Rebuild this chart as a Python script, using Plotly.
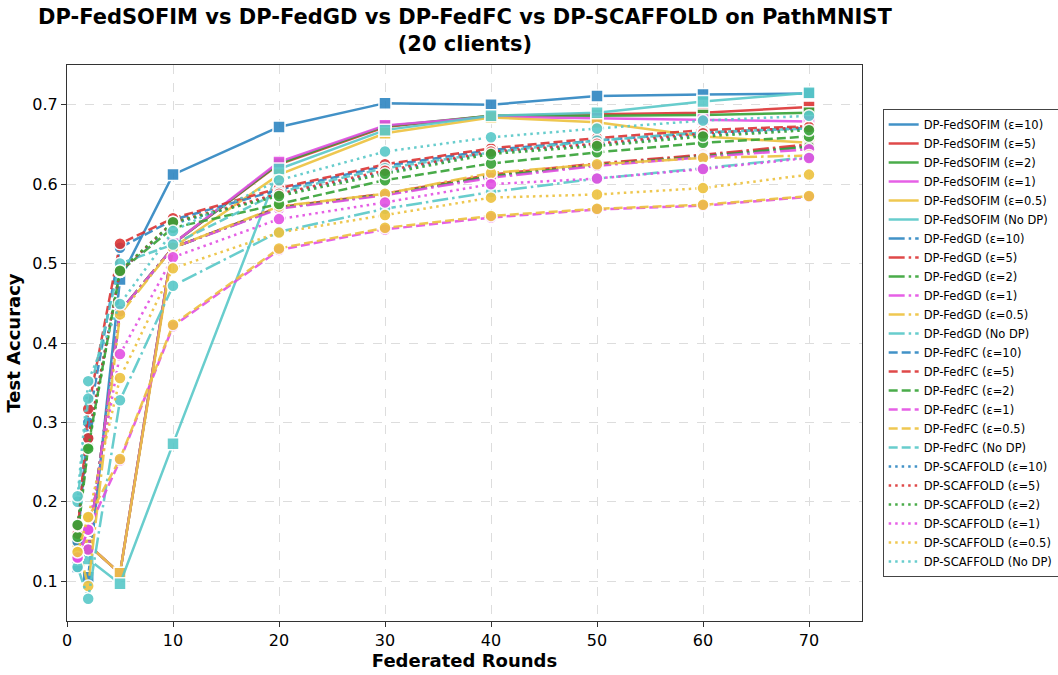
import plotly.graph_objects as go

rounds = [1, 2, 5, 10, 20, 30, 40, 50, 60, 70]
eps_labels = ["ε=10", "ε=5", "ε=2", "ε=1", "ε=0.5", "No DP"]
colors = ["#2E86C1", "#DC3535", "#36A336", "#E34FE3", "#EDC23E", "#58C8C8"]

fedsofim = [
    [0.118, 0.105, 0.480, 0.612, 0.672, 0.702, 0.700, 0.711, 0.713, 0.714],
    [0.140, 0.146, 0.110, 0.525, 0.625, 0.672, 0.686, 0.688, 0.690, 0.697],
    [0.140, 0.146, 0.110, 0.525, 0.626, 0.673, 0.686, 0.686, 0.687, 0.690],
    [0.140, 0.146, 0.110, 0.525, 0.628, 0.674, 0.685, 0.683, 0.681, 0.679],
    [0.140, 0.146, 0.110, 0.520, 0.612, 0.664, 0.684, 0.678, 0.660, 0.652],
    [0.128, 0.128, 0.097, 0.273, 0.619, 0.668, 0.686, 0.690, 0.704, 0.715],
]
fedgd = [
    [0.130, 0.140, 0.440, 0.520, 0.570, 0.587, 0.610, 0.625, 0.636, 0.648],
    [0.130, 0.140, 0.440, 0.520, 0.571, 0.588, 0.612, 0.626, 0.637, 0.650],
    [0.130, 0.140, 0.440, 0.520, 0.570, 0.587, 0.610, 0.624, 0.635, 0.647],
    [0.130, 0.140, 0.440, 0.520, 0.569, 0.586, 0.608, 0.623, 0.634, 0.644],
    [0.146, 0.094, 0.436, 0.520, 0.572, 0.588, 0.614, 0.625, 0.633, 0.636],
    [0.118, 0.078, 0.328, 0.472, 0.540, 0.569, 0.590, 0.607, 0.620, 0.634],
]
fedfc = [
    [0.150, 0.300, 0.520, 0.555, 0.593, 0.623, 0.643, 0.655, 0.665, 0.671],
    [0.160, 0.317, 0.525, 0.557, 0.595, 0.625, 0.645, 0.658, 0.668, 0.673],
    [0.156, 0.270, 0.490, 0.545, 0.575, 0.605, 0.626, 0.640, 0.652, 0.660],
    [0.130, 0.165, 0.252, 0.421, 0.517, 0.543, 0.558, 0.568, 0.573, 0.584],
    [0.137, 0.180, 0.254, 0.423, 0.519, 0.545, 0.560, 0.569, 0.574, 0.585],
    [0.200, 0.330, 0.500, 0.524, 0.590, 0.620, 0.640, 0.655, 0.665, 0.670],
]
scaffold = [
    [0.170, 0.280, 0.490, 0.550, 0.587, 0.615, 0.640, 0.650, 0.662, 0.670],
    [0.170, 0.280, 0.490, 0.552, 0.588, 0.617, 0.641, 0.651, 0.664, 0.672],
    [0.171, 0.267, 0.491, 0.552, 0.585, 0.613, 0.638, 0.648, 0.660, 0.668],
    [0.130, 0.165, 0.386, 0.508, 0.556, 0.577, 0.600, 0.607, 0.619, 0.633],
    [0.137, 0.181, 0.356, 0.494, 0.539, 0.561, 0.583, 0.587, 0.595, 0.612],
    [0.207, 0.352, 0.449, 0.541, 0.605, 0.641, 0.659, 0.670, 0.680, 0.686],
]

methods = [
    ("DP-FedSOFIM", fedsofim, "solid", "square"),
    ("DP-FedGD", fedgd, "16px,4px,2.5px,4px", "circle"),
    ("DP-FedFC", fedfc, "9px,4px", "circle"),
    ("DP-SCAFFOLD", scaffold, "2.5px,4px", "circle"),
]

fig = go.Figure()
for name, data, dash, sym in methods:
    for i, vals in enumerate(data):
        fig.add_trace(go.Scatter(
            x=rounds, y=vals, mode="lines+markers",
            name=f"{name} ({eps_labels[i]})", showlegend=False,
            line=dict(color=colors[i], width=2.5, dash=dash),
            marker=dict(symbol=sym, size=12, color=colors[i],
                        line=dict(color="white", width=1.5)),
            opacity=0.9,
        ))
# legend entries (lines only, as in the reference)
for name, data, dash, sym in methods:
    for i in range(len(data)):
        fig.add_trace(go.Scatter(
            x=[None], y=[None], mode="lines",
            name=f"{name} ({eps_labels[i]})", showlegend=True,
            line=dict(color=colors[i], width=2.5, dash=dash),
            opacity=0.9,
        ))

font_family = "DejaVu Sans"
fig.update_layout(
    width=1058, height=675,
    margin=dict(l=67, r=196, t=65, b=54, autoexpand=False),
    paper_bgcolor="white", plot_bgcolor="white",
    font=dict(family=font_family, size=16, color="black"),
    showlegend=True,
    legend=dict(
        x=1.026, xanchor="left", y=0.50, yanchor="middle",
        bgcolor="white", bordercolor="#444", borderwidth=1,
        font=dict(size=11.5, family=font_family),
        tracegroupgap=0, itemwidth=30,
    ),
    annotations=[dict(
        text="<b>DP-FedSOFIM vs DP-FedGD vs DP-FedFC vs DP-SCAFFOLD on PathMNIST<br>(20 clients)</b>",
        xref="paper", yref="paper", x=0.5, y=1.112, xanchor="center", yanchor="top",
        showarrow=False, font=dict(size=21, family=font_family), align="center",
    )],
)
fig.update_xaxes(
    range=[0, 75], tickvals=[0, 10, 20, 30, 40, 50, 60, 70],
    showgrid=True, gridcolor="#dddddd", griddash="dash", gridwidth=1,
    showline=True, linecolor="#333", linewidth=1.2, mirror=True,
    ticks="outside", ticklen=5, tickcolor="#333",
    zeroline=False, automargin=False,
    title=dict(text="<b>Federated Rounds</b>", font=dict(size=18), standoff=2),
)
fig.update_yaxes(
    range=[0.05, 0.75], tickvals=[0.1, 0.2, 0.3, 0.4, 0.5, 0.6, 0.7],
    ticktext=["0.1", "0.2", "0.3", "0.4", "0.5", "0.6", "0.7"],
    showgrid=True, gridcolor="#dddddd", griddash="dash", gridwidth=1,
    showline=True, linecolor="#333", linewidth=1.2, mirror=True,
    ticks="outside", ticklen=5, tickcolor="#333",
    zeroline=False, automargin=False,
    title=dict(text="<b>Test Accuracy</b>", font=dict(size=18), standoff=6),
)
fig.write_html("out.html", config={"displayModeBar": False},
               post_script="document.body.style.margin='0';")
